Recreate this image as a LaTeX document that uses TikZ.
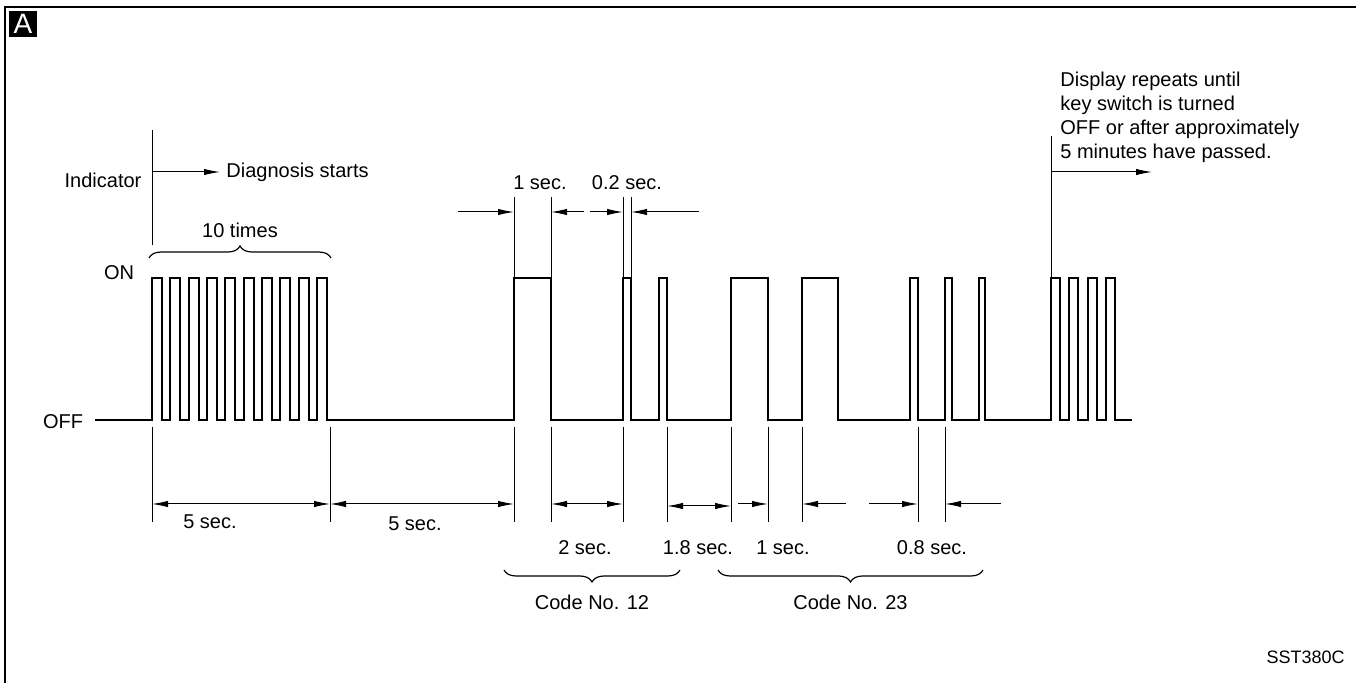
\documentclass[tikz,border=0pt]{standalone}
\usepackage{fontspec}
\setmainfont{Liberation Sans}
\usetikzlibrary{arrows.meta,decorations.pathreplacing}

\begin{document}
\begin{tikzpicture}[x=0.5pt, y=-0.5pt, >={Latex[length=8pt,width=3.2pt]},
    wave/.style={line width=1.1pt, line join=miter},
    dim/.style={line width=0.5pt},
    lbl/.style={font=\fontsize{10}{12}\selectfont, inner sep=1pt},
    curly/.style={line width=0.6pt, decorate, decoration={brace, amplitude=6pt}}]
    \useasboundingbox (0,0) rectangle (1356,683);

    % frame and tag
    \draw[line width=1pt] (5,683) -- (5,7) -- (1356,7);
    \node[fill=black, text=white, font=\fontsize{14}{14}\selectfont, minimum width=14pt, minimum height=13pt, inner sep=0pt] (tag) at (23,24) {A};

    % left labels
    \node[lbl] (indicator) at (103,180) {Indicator};
    \node[lbl] (on) at (119,273) {ON};
    \node[lbl] (off) at (63,422) {OFF};
    \node[lbl, anchor=west] (diag) at (224,172) {Diagnosis starts};
    \draw[dim] (152,130) -- (152,245);
    \coordinate (start) at (152,172);
    \draw[dim, ->] (start) -- ([xshift=-2pt]diag.west);

    % ten pulses
    \draw[curly] (149,258) -- node[lbl, above=9pt] (ten) {10 times} (331,258);

    % indicator waveform
    \draw[wave] (95,420) -- (152,420)
        \foreach \i in {0,...,9} { -- ({152+18.33*\i},420) -- ({152+18.33*\i},278) -- ({162+18.33*\i},278) -- ({162+18.33*\i},420) }
        -- (514,420) -- (514,278) -- (551,278) -- (551,420)
        -- (623,420) -- (623,278) -- (631,278) -- (631,420)
        -- (659,420) -- (659,278) -- (667,278) -- (667,420)
        -- (731,420) -- (731,278) -- (768,278) -- (768,420)
        -- (802,420) -- (802,278) -- (838,278) -- (838,420)
        -- (910,420) -- (910,278) -- (918,278) -- (918,420)
        -- (945,420) -- (945,278) -- (952,278) -- (952,420)
        -- (979,420) -- (979,278) -- (985,278) -- (985,420)
        \foreach \i in {0,...,3} { -- ({1051+18.3*\i},420) -- ({1051+18.3*\i},278) -- ({1060+18.3*\i},278) -- ({1060+18.3*\i},420) }
        -- (1132,420);

    % timing above
    \foreach \x in {514,551,623,631} \draw[dim] (\x,197) -- (\x,278);
    \draw[dim, ->] (458,212) -- (514,212);
    \draw[dim, ->] (584,212) -- (551,212);
    \draw[dim, ->] (590,212) -- (623,212);
    \draw[dim, ->] (699,212) -- (631,212);
    \node[lbl] (long1) at (540,183) {1 sec.};
    \node[lbl] (short1) at (627,183) {0.2 sec.};

    % timing below
    \foreach \x in {152,330,514,551,623,667,731,768,802,918,945} \draw[dim] (\x,427) -- (\x,522);
    \draw[dim, <->] (152,504) -- (330,504);
    \draw[dim, <->] (330,504) -- (514,504);
    \draw[dim, <->] (551,504) -- (623,504);
    \draw[dim, <->] (667,506) -- (731,506);
    \draw[dim, ->] (738,504) -- (768,504);
    \draw[dim, ->] (846,504) -- (802,504);
    \draw[dim, ->] (869,504) -- (918,504);
    \draw[dim, ->] (1001,504) -- (945,504);
    \node[lbl] (first) at (210,522) {5 sec.};
    \node[lbl] (pause) at (415,524) {5 sec.};
    \node[lbl] (gap1) at (585,548) {2 sec.};
    \node[lbl] (gap2) at (698,548) {1.8 sec.};
    \node[lbl] (gap3) at (783,548) {1 sec.};
    \node[lbl] (gap4) at (932,548) {0.8 sec.};

    % code groups
    \draw[curly] (680,570) -- node[lbl, below=11pt] (code12) {Code No. 12} (504,570);
    \draw[curly] (983,570) -- node[lbl, below=11pt] (code23) {Code No. 23} (718,570);

    % repeat note
    \draw[dim] (1051,136) -- (1051,278);
    \node[lbl, anchor=north west, align=left] (note) at (1058,70) {Display repeats until\\key switch is turned\\OFF or after approximately\\5 minutes have passed.};
    \coordinate (again) at (1051,172);
    \coordinate (later) at (1152,172);
    \draw[dim, ->] (again) -- (later);

    \node[lbl, anchor=east, font=\fontsize{9}{10}\selectfont] (ref) at (1347,657) {SST380C};
\end{tikzpicture}
\end{document}
